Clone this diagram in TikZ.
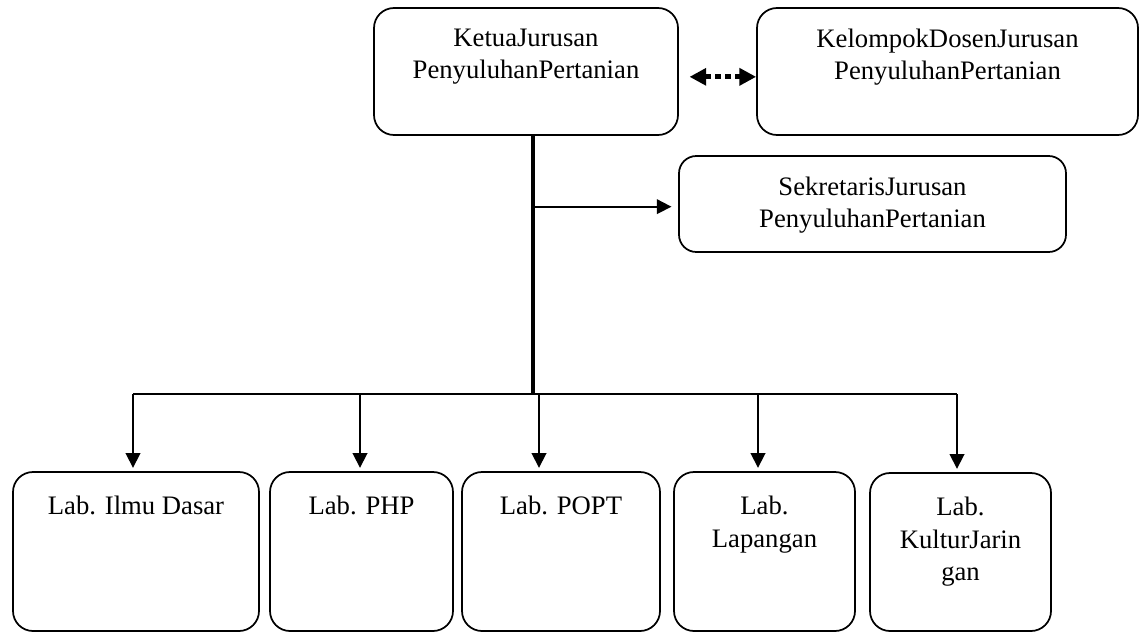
\documentclass[tikz,border=0pt]{standalone}
\usepackage{fontspec}
\setmainfont{Liberation Serif}
\usetikzlibrary{arrows.meta,positioning}

\tikzset{
  box/.style={draw, line width=1.3pt, rounded corners=15pt, inner sep=0pt},
  boxtext/.style={inner sep=0pt, align=center, font=\fontsize{20}{24.5}\selectfont},
  link/.style={line width=1.3pt, -{Triangle[length=11pt,width=11pt]}},
  dotlink/.style={line width=3.75pt, dash pattern=on 4.5pt off 3pt,
    {Triangle[length=12.5pt,width=12.5pt]}-{Triangle[length=12.5pt,width=12.5pt]}},
}

\begin{document}
\begin{tikzpicture}[x=0.75pt,y=0.75pt,yscale=-1]
\useasboundingbox (0,0) rectangle (1140,632);

%Rounded Rect
\node [box, minimum width=228pt, minimum height=95.25pt] (ketua) at (526,71.5) {};
%Rounded Rect
\node [box, minimum width=285.75pt, minimum height=95.25pt] (kelompok) at (947.5,71.5) {};
%Rounded Rect
\node [box, rounded corners=13pt, minimum width=290.25pt, minimum height=72pt] (sekretaris) at (872.5,204) {};
%Rounded Rect
\node [box, minimum width=184.5pt, minimum height=119.25pt] (labdasar) at (136,551.5) {};
%Rounded Rect
\node [box, minimum width=137.25pt, minimum height=119.25pt] (labphp) at (361.5,551.5) {};
%Rounded Rect
\node [box, minimum width=148.5pt, minimum height=119.25pt] (labpopt) at (561,551.5) {};
%Rounded Rect
\node [box, minimum width=135.75pt, minimum height=119.25pt] (lablapangan) at (764.5,551.5) {};
%Rounded Rect
\node [box, minimum width=135.75pt, minimum height=118.5pt] (labkultur) at (960.5,552) {};

% Text Node
\node [boxtext, below=16pt of ketua.north] (ketuatext) {KetuaJurusan\\PenyuluhanPertanian};
% Text Node
\node [boxtext, below=16pt of kelompok.north] (kelompoktext) {KelompokDosenJurusan\\PenyuluhanPertanian};
% Text Node
\node [boxtext, below=16pt of sekretaris.north] (sekretaristext) {SekretarisJurusan\\PenyuluhanPertanian};
% Text Node
\node [boxtext, below=18.5pt of labdasar.north] (labdasartext) {Lab. Ilmu Dasar};
% Text Node
\node [boxtext, below=18.5pt of labphp.north] (labphptext) {Lab. PHP};
% Text Node
\node [boxtext, below=18.5pt of labpopt.north] (labpopttext) {Lab. POPT};
% Text Node
\node [boxtext, below=18.5pt of lablapangan.north] (lablapangantext) {Lab.\\Lapangan};
% Text Node
\node [boxtext, below=18.5pt of labkultur.north] (labkulturtext) {Lab.\\KulturJarin\\gan};

\coordinate (trunk) at (533,394);
\coordinate (d1) at (133,394);
\coordinate (d2) at (360,394);
\coordinate (d3) at (539,394);
\coordinate (d4) at (758,394);
\coordinate (d5) at (957,394);

%Straight Lines
\draw [dotlink, shorten <=8pt] ([yshift=4pt]ketua.east) -- ([yshift=4pt]kelompok.west);
%Straight Lines
\draw [line width=3.2pt] (ketua.south -| trunk) -- (trunk);
%Straight Lines
\draw [link, shorten >=5pt] ([yshift=2pt]trunk |- sekretaris.west) -- ([yshift=2pt]sekretaris.west);
%Straight Lines
\draw [line width=1.3pt] (d1) -- (d5);
\draw [link, shorten >=2.5pt] (d1) -- (d1 |- labdasar.north);
\draw [link, shorten >=2.5pt] (d2) -- (d2 |- labphp.north);
\draw [link, shorten >=2.5pt] (d3) -- (d3 |- labpopt.north);
\draw [link, shorten >=2.5pt] (d4) -- (d4 |- lablapangan.north);
\draw [link, shorten >=2.5pt] (d5) -- (d5 |- labkultur.north);
\end{tikzpicture}
\end{document}
